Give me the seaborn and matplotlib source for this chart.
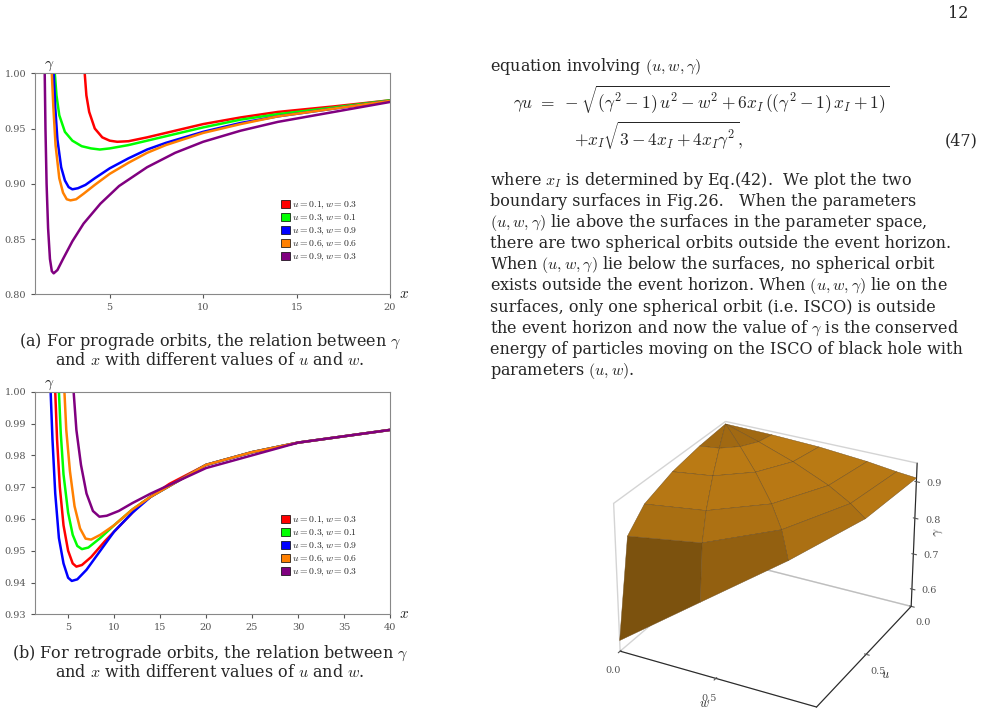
import numpy as np
import pandas as pd
import matplotlib
matplotlib.use("Agg")
import matplotlib.pyplot as plt
import seaborn as sns
from matplotlib.patches import Patch

sns.set_style("ticks")
plt.rcParams['font.family'] = ['DejaVu Serif']
plt.rcParams['mathtext.fontset'] = 'cm'

labels = ["u=0.1,w=0.3", "u=0.3,w=0.1", "u=0.3,w=0.9", "u=0.6,w=0.6", "u=0.9,w=0.3"]
colors = ["#ff0000", "#00ff00", "#0000ff", "#ff8000", "#800080"]

# prograde (x, gamma) estimates
pro_x = [
    [3.66, 3.75, 3.9, 4.2, 4.6, 5.0, 5.4, 6, 7, 8, 10, 12, 14, 17, 20],
    [2.06, 2.15, 2.3, 2.6, 3.0, 3.5, 4.0, 4.47, 5, 6, 7, 8, 10, 12, 14, 17, 20],
    [2.0, 2.08, 2.2, 2.4, 2.6, 2.8, 3.0, 3.3, 3.7, 4.2, 5, 6, 7, 8, 10, 12, 14, 17, 20],
    [1.9, 1.98, 2.1, 2.3, 2.5, 2.7, 2.9, 3.2, 3.6, 4.2, 5, 6, 7, 8, 10, 12, 14, 17, 20],
    [1.52, 1.56, 1.62, 1.7, 1.8, 1.9, 2.0, 2.2, 2.5, 3.0, 3.6, 4.5, 5.5, 7, 8.5, 10, 12, 14, 17, 20],
]
pro_y = [
    [1.0, 0.98, 0.965, 0.95, 0.942, 0.939, 0.938, 0.9385, 0.942, 0.946, 0.954, 0.960, 0.965, 0.970, 0.9755],
    [1.0, 0.98, 0.962, 0.947, 0.939, 0.934, 0.932, 0.931, 0.932, 0.935, 0.939, 0.943, 0.951, 0.958, 0.963, 0.969, 0.9755],
    [1.0, 0.97, 0.94, 0.915, 0.903, 0.897, 0.895, 0.896, 0.899, 0.905, 0.914, 0.923, 0.931, 0.937, 0.947, 0.955, 0.961, 0.968, 0.975],
    [1.0, 0.97, 0.935, 0.905, 0.892, 0.886, 0.885, 0.886, 0.891, 0.899, 0.909, 0.919, 0.928, 0.935, 0.946, 0.954, 0.961, 0.968, 0.975],
    [1.0, 0.95, 0.90, 0.86, 0.832, 0.821, 0.819, 0.822, 0.832, 0.848, 0.864, 0.882, 0.898, 0.915, 0.928, 0.938, 0.948, 0.956, 0.965, 0.974],
]
# retrograde (x, gamma) estimates
ret_x = [
    [3.6, 3.8, 4.1, 4.5, 5.0, 5.5, 5.9, 6.5, 7.5, 9, 11, 13, 16, 20, 25, 30, 35, 40],
    [4.0, 4.2, 4.5, 5.0, 5.5, 6.0, 6.5, 7.2, 8.5, 10, 12, 14, 17, 20, 25, 30, 35, 40],
    [3.1, 3.3, 3.6, 4.0, 4.5, 5.0, 5.4, 6, 7, 8.5, 10, 12, 14, 17, 20, 25, 30, 35, 40],
    [4.6, 4.8, 5.2, 5.7, 6.3, 6.9, 7.5, 8.5, 10, 12, 14, 17, 20, 25, 30, 35, 40],
    [5.6, 5.9, 6.4, 7.0, 7.7, 8.4, 9.2, 10.5, 12, 14, 17, 20, 25, 30, 35, 40],
]
ret_y = [
    [1.0, 0.985, 0.97, 0.958, 0.950, 0.946, 0.945, 0.9455, 0.948, 0.953, 0.959, 0.965, 0.971, 0.977, 0.981, 0.984, 0.986, 0.988],
    [1.0, 0.987, 0.974, 0.962, 0.955, 0.9515, 0.9505, 0.951, 0.954, 0.958, 0.963, 0.967, 0.972, 0.977, 0.981, 0.984, 0.986, 0.988],
    [1.0, 0.985, 0.968, 0.954, 0.946, 0.9415, 0.9405, 0.941, 0.944, 0.950, 0.956, 0.962, 0.967, 0.972, 0.977, 0.981, 0.984, 0.986, 0.988],
    [1.0, 0.988, 0.975, 0.964, 0.957, 0.9538, 0.9535, 0.955, 0.958, 0.963, 0.967, 0.972, 0.977, 0.981, 0.984, 0.986, 0.988],
    [1.0, 0.988, 0.977, 0.968, 0.9625, 0.9607, 0.961, 0.9625, 0.965, 0.968, 0.972, 0.976, 0.980, 0.984, 0.986, 0.988],
]

# 3D surface estimates gamma over (r, theta) with u = r cos(theta), w = r sin(theta)
surf_r = [0.0, 0.25, 0.5, 0.75, 0.9, 1.0]
surf_theta_deg = [0.0, 22.5, 45.0, 67.5, 90.0]
surf_g = [
    [0.943, 0.943, 0.943, 0.943, 0.943],
    [0.935, 0.936, 0.938, 0.940, 0.941],
    [0.920, 0.923, 0.928, 0.933, 0.936],
    [0.890, 0.895, 0.905, 0.918, 0.925],
    [0.840, 0.850, 0.875, 0.900, 0.915],
    [0.580, 0.720, 0.820, 0.880, 0.910],
]

fig = plt.figure(figsize=(9.86, 7.11), dpi=100)

def panel(rect, xs, ys, xlim, ylim, xticks, yticks, legpos):
    ax = fig.add_axes(rect)
    rows = []
    for lab, x, y in zip(labels, xs, ys):
        for a, b in zip(x, y):
            rows.append((lab, a, b))
    df = pd.DataFrame(rows, columns=["lab", "x", "g"])
    sns.lineplot(data=df, x="x", y="g", hue="lab", palette=colors, hue_order=labels,
                 ax=ax, lw=1.8, sort=False, legend=False)
    ax.set_xlim(*xlim); ax.set_ylim(*ylim)
    ax.set_xticks(xticks); ax.set_yticks(yticks)
    ax.set_yticklabels([f"{t:.2f}" for t in yticks])
    ax.tick_params(labelsize=7, colors="#555555", length=3)
    ax.set_xlabel(""); ax.set_ylabel("")
    for s in ax.spines.values():
        s.set_color("#888888")
    ax.text(xlim[1], ylim[0], r"  $x$", fontsize=11, va="center", ha="left")
    ax.text(xlim[0], ylim[1], r"  $\gamma$", fontsize=11, va="bottom", ha="left")
    handles = [Patch(facecolor=c, edgecolor="k", lw=0.5, label=r"$u=%s,w=%s$" % tuple(l[2:].split(",w=")))
               for c, l in zip(colors, labels)]
    ax.legend(handles=handles, loc="lower left", bbox_to_anchor=legpos, frameon=False,
              fontsize=7, handlelength=0.9, handleheight=0.9, handletextpad=0.2,
              labelspacing=0.15, borderpad=0)
    return ax

panel([0.0355, 0.586, 0.36, 0.311], pro_x, pro_y, (1.0, 20.0), (0.80, 1.00),
      [5, 10, 15, 20], [0.80, 0.85, 0.90, 0.95, 1.00], (0.68, 0.12))
panel([0.0355, 0.136, 0.36, 0.313], ret_x, ret_y, (1.4, 40.0), (0.93, 1.00),
      [5, 10, 15, 20, 25, 30, 35, 40], [0.93, 0.94, 0.95, 0.96, 0.97, 0.98, 0.99, 1.00], (0.68, 0.14))

fs = 11.5
fig.text(0.213, 0.513, r"(a) For prograde orbits, the relation between $\gamma$", ha="center", fontsize=fs)
fig.text(0.213, 0.486, r"and $x$ with different values of $u$ and $w$.", ha="center", fontsize=fs)
fig.text(0.213, 0.075, r"(b) For retrograde orbits, the relation between $\gamma$", ha="center", fontsize=fs)
fig.text(0.213, 0.048, r"and $x$ with different values of $u$ and $w$.", ha="center", fontsize=fs)
fig.text(0.982, 0.975, "12", ha="right", fontsize=fs)

L = 0.497
fig.text(L, 0.900, r"equation involving $(u,w,\gamma)$", fontsize=fs)
fig.text(0.52, 0.847, r"$\gamma u\ =\ -\sqrt{(\gamma^2-1)\,u^2-w^2+6x_I\,((\gamma^2-1)\,x_I+1)}$", fontsize=fs + 1)
fig.text(0.582, 0.795, r"$+x_I\sqrt{3-4x_I+4x_I\gamma^2},$", fontsize=fs + 1)
fig.text(0.992, 0.795, "(47)", ha="right", fontsize=fs)
para = [
    r"where $x_I$ is determined by Eq.(42).  We plot the two",
    r"boundary surfaces in Fig.26.   When the parameters",
    r"$(u,w,\gamma)$ lie above the surfaces in the parameter space,",
    r"there are two spherical orbits outside the event horizon.",
    r"When $(u,w,\gamma)$ lie below the surfaces, no spherical orbit",
    r"exists outside the event horizon. When $(u,w,\gamma)$ lie on the",
    r"surfaces, only one spherical orbit (i.e. ISCO) is outside",
    r"the event horizon and now the value of $\gamma$ is the conserved",
    r"energy of particles moving on the ISCO of black hole with",
    r"parameters $(u,w)$.",
]
for i, line in enumerate(para):
    fig.text(L, 0.740 - i * 0.0297, line, fontsize=fs)

ax3 = fig.add_axes([0.55, -0.03, 0.45, 0.48], projection="3d")
R, T = np.meshgrid(surf_r, np.radians(surf_theta_deg), indexing="ij")
U = R * np.cos(T)
W = R * np.sin(T)
G = np.array(surf_g)
ax3.plot_surface(W, U, G, color="#f7a21b", edgecolor="#6b4a1a", lw=0.3, shade=True)
ax3.set_xlim(0, 1); ax3.set_ylim(1, 0); ax3.set_zlim(0.55, 0.95)
ax3.set_xticks([0.0, 0.5]); ax3.set_yticks([0.0, 0.5]); ax3.set_zticks([0.6, 0.7, 0.8, 0.9])
ax3.tick_params(labelsize=7, colors="#555555", pad=0)
ax3.set_xlabel(r"$w$", fontsize=9, labelpad=-8)
ax3.set_ylabel(r"$u$", fontsize=9, labelpad=-8)
ax3.set_zlabel(r"$\gamma$", fontsize=9, labelpad=-10)
ax3.view_init(elev=28, azim=-62)
for a in (ax3.xaxis, ax3.yaxis, ax3.zaxis):
    a.pane.fill = False
    a.pane.set_edgecolor("#aaaaaa")
ax3.grid(False)

fig.savefig("out.png", dpi=100)
